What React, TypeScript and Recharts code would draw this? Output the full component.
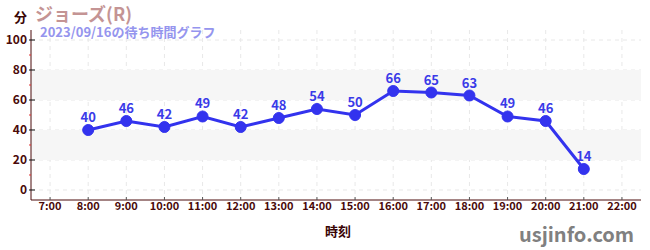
import {
  CartesianGrid,
  LabelList,
  Line,
  LineChart,
  ReferenceArea,
  XAxis,
  YAxis,
} from "recharts";

const hours = [8, 9, 10, 11, 12, 13, 14, 15, 16, 17, 18, 19, 20, 21];
const waitMinutes = [40, 46, 42, 49, 42, 48, 54, 50, 66, 65, 63, 49, 46, 14];
const xTicks = [7, 8, 9, 10, 11, 12, 13, 14, 15, 16, 17, 18, 19, 20, 21, 22];
const yTicks = [0, 10, 20, 30, 40, 50, 60, 70, 80, 90, 100];
const yMajor = [0, 20, 40, 60, 80, 100];
const bands = [
  [20, 40],
  [60, 80],
];

const data = hours.map((h, i) => ({ hour: h, wait: waitMinutes[i] }));

const FONT = "'Noto Sans CJK JP', 'Noto Sans', sans-serif";
const AXIS = "#4a0a0a";

// y ticks: labelled black cross at every 20, short red mark in between
function YTick(props: any) {
  const { x, y, payload } = props;
  const major = payload.value % 20 === 0;
  return (
    <g>
      <line
        x1={x + 6}
        x2={major ? x + 12 : x + 8}
        y1={y}
        y2={y}
        stroke={major ? "#111" : "#e03030"}
        strokeWidth={1}
      />
      {major && (
        <text x={x + 4} y={y + 4} textAnchor="end" fontSize={12} fontWeight="bold" fill={AXIS} fontFamily={FONT}>
          {payload.value}
        </text>
      )}
    </g>
  );
}

function XTick(props: any) {
  const { x, y, payload } = props;
  return (
    <text x={x} y={y + 11} textAnchor="middle" fontSize={11} fontWeight="bold" fill={AXIS} fontFamily={FONT}>
      {`${payload.value}:00`}
    </text>
  );
}

export default function App() {
  return (
    <div style={{ position: "absolute", left: 0, top: 0, width: 650, height: 250, fontFamily: FONT }}>
      <LineChart width={650} height={250} data={data} margin={{ top: 30, right: 9, bottom: 0, left: 0 }}>
        {bands.map(([a, b]) => (
          <ReferenceArea key={a} y1={a} y2={b} fill="#f6f6f6" fillOpacity={1} stroke="none" />
        ))}
        <CartesianGrid
          strokeDasharray="4 4"
          stroke="#e8e8e8"
          horizontalValues={yMajor}
          verticalValues={xTicks}
        />
        <XAxis
          dataKey="hour"
          type="number"
          domain={[6.5, 22.5]}
          ticks={xTicks}
          allowDataOverflow
          height={50}
          stroke={AXIS}
          tickSize={-3}
          tickMargin={2}
          tickLine={{ stroke: "#555" }}
          tick={<XTick />}
        />
        <YAxis
          type="number"
          domain={[-6.67, 106.67]}
          ticks={yTicks}
          allowDataOverflow
          width={31}
          stroke={AXIS}
          tickLine={false}
          tick={<YTick />}
          interval={0}
        />
        <Line
          dataKey="wait"
          stroke="#3333ee"
          strokeWidth={3}
          dot={{ r: 5.5, fill: "#3333ee", stroke: "#3333ee", strokeWidth: 1 }}
          isAnimationActive={false}
        >
          <LabelList
            dataKey="wait"
            position="top"
            offset={8}
            fill="#3a3ae8"
            fontSize={13}
            fontWeight="bold"
            fontFamily={FONT}
          />
        </Line>
      </LineChart>
      <div style={{ position: "absolute", left: 14, top: 7, fontSize: 13, fontWeight: "bold", color: "#3a0505" }}>分</div>
      <div style={{ position: "absolute", left: 35, top: 0, fontSize: 18, fontWeight: "bold", color: "#c49494" }}>ジョーズ(R)</div>
      <div style={{ position: "absolute", left: 40, top: 22, fontSize: 13, fontWeight: "bold", color: "#9595ee" }}>2023/09/16の待ち時間グラフ</div>
      <div style={{ position: "absolute", left: 325, top: 221, fontSize: 13, fontWeight: "bold", color: "#3a0505" }}>時刻</div>
      <div style={{ position: "absolute", left: 519, top: 219, fontSize: 20, fontWeight: "bold", color: "#808080" }}>usjinfo.com</div>
    </div>
  );
}
